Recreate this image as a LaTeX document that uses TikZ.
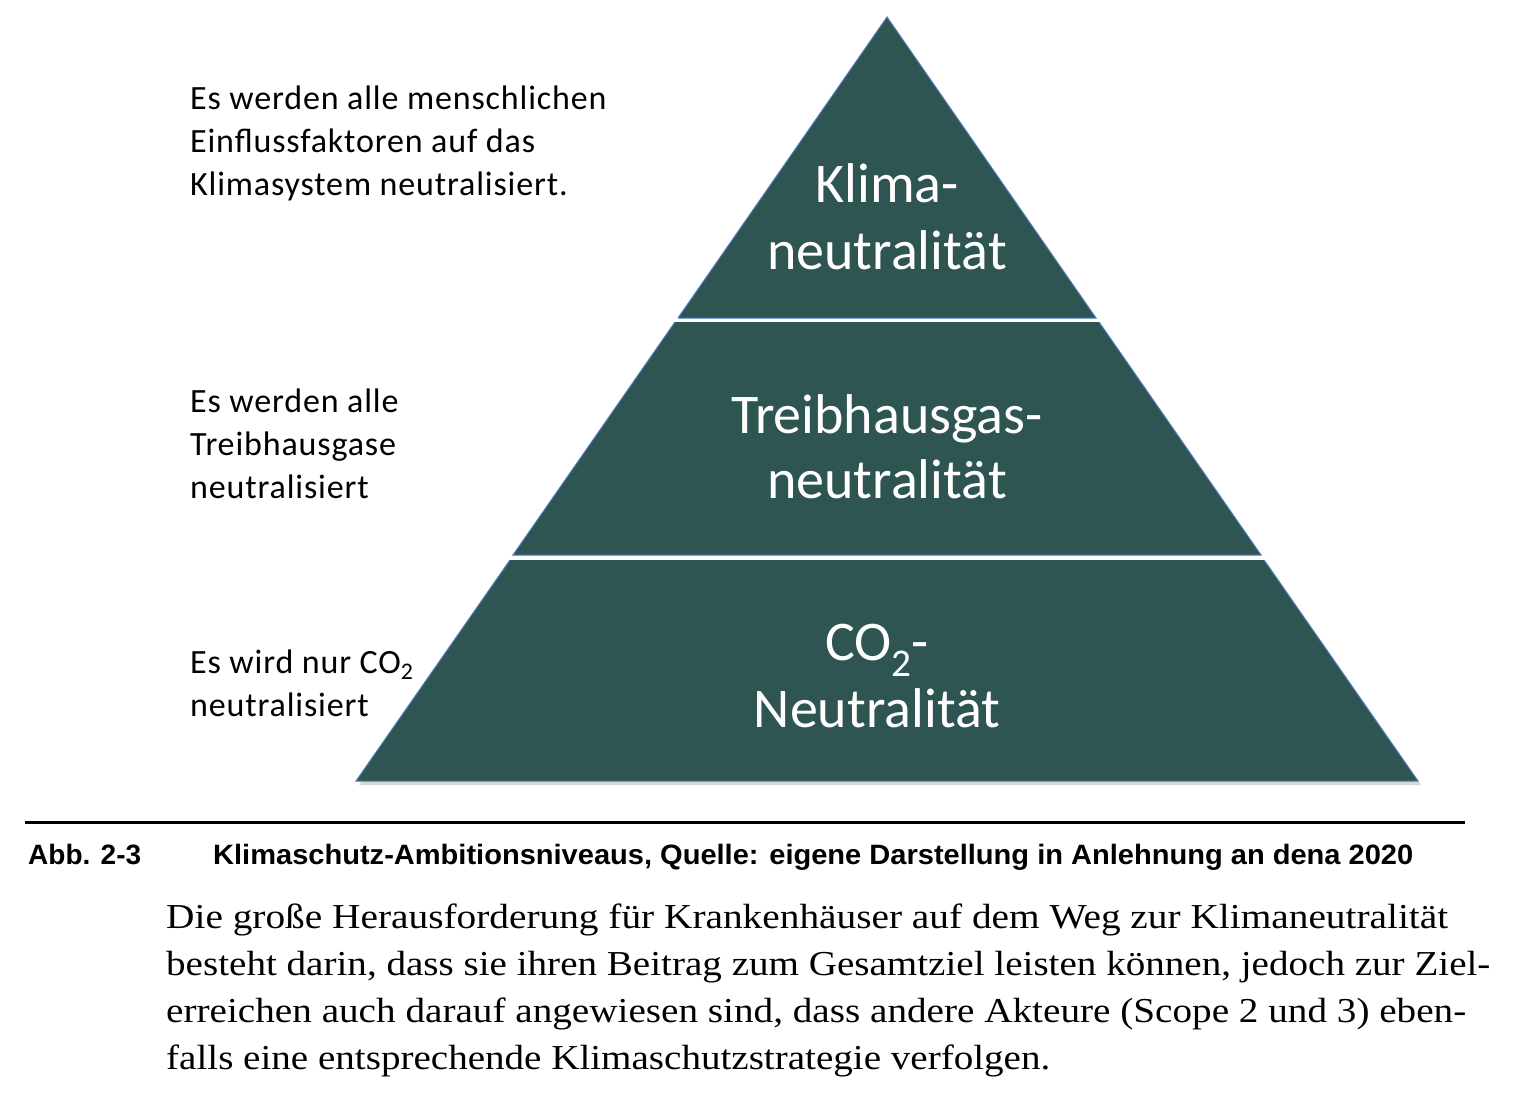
\documentclass[tikz,border=0pt]{standalone}
\usepackage{fontspec}
\usepackage{graphicx}
\setmainfont{Liberation Serif}
\newfontfamily\calfont{Carlito}
\newfontfamily\sidefont[LetterSpace=2.5]{Carlito}
\newfontfamily\capfont{Liberation Sans}
\newfontfamily\bodyfont{Liberation Serif}
\definecolor{tier}{RGB}{46,85,81}
\definecolor{edge}{RGB}{80,122,190}
\newcommand{\hfit}[2]{\resizebox{#1}{\height}{#2}}
\begin{document}
\begin{tikzpicture}[x=1pt,y=-1pt,
  tierfill/.style={fill=tier},
  tieredge/.style={draw=edge,line width=1pt,line join=miter},
  shade/.style={fill=black!15},
  lab/.style={text=white,font=\calfont\fontsize{56}{67}\selectfont,anchor=base,inner sep=0pt},
  side/.style={font=\sidefont\fontsize{34}{43}\selectfont,anchor=base west,inner sep=0pt},
  captxt/.style={font=\capfont\bfseries\fontsize{28}{32}\selectfont,anchor=base west,inner sep=0pt},
  body/.style={font=\bodyfont\fontsize{35}{47}\selectfont,anchor=base west,inner sep=0pt}]
\useasboundingbox (0,0) rectangle (1531,1099);
% shadow
\fill[shade] (513,563) -- (1267,563) -- (1421,785) -- (359,785) -- cycle;
% tiers
\fill[tierfill] (887,17) -- (1096,318) -- (678,318) -- cycle;
\draw[tieredge] (678,318) -- (887,17) -- (1096,318) -- (678,318);
\fill[tierfill] (675,322) -- (1099,322) -- (1261,555) -- (513,555) -- cycle;
\draw[tieredge] (675,322) -- (513,555) -- (1261,555) -- (1099,322);
\fill[tierfill] (510,560) -- (1264,560) -- (1418,781) -- (356,781) -- cycle;
\draw[tieredge] (510,560) -- (356,781) -- (1418,781) -- (1264,560);
% labels
\node[lab] (k1) at (887,203) {Klima-};
\node[lab] (k2) at (887,270) {neutralität};
\node[lab] (t1) at (887,433) {Treibhausgas-};
\node[lab] (t2) at (887,498) {neutralität};
\node[lab] (c1) at (877,660) {CO\textsubscript{2}-};
\node[lab] (c2) at (877,727) {Neutralität};
% side texts
\node[side] (s1) at (190,110) {Es werden alle menschlichen};
\node[side] (s2) at (190,153) {Einflussfaktoren auf das};
\node[side] (s3) at (190,196) {Klimasystem neutralisiert.};
\node[side] (s4) at (190,412) {Es werden alle};
\node[side] (s5) at (190,455) {Treibhausgase};
\node[side] (s6) at (190,498) {neutralisiert};
\node[side] (s7) at (190,673) {Es wird nur CO\textsubscript{2}};
\node[side] (s8) at (190,716) {neutralisiert};
% caption
\coordinate (rl) at (25,822);
\coordinate (rr) at (1465,822);
\draw[line width=3pt] (rl) -- (rr);
\node[captxt] (abb) at (28,864) {\hfit{113pt}{Abb. 2-3}};
\node[captxt] (capt) at (213,864) {\hfit{1200pt}{Klimaschutz-Ambitionsniveaus, Quelle: eigene Darstellung in Anlehnung an dena 2020}};
% body
\node[body] (b1) at (166,928) {\hfit{1282pt}{Die große Herausforderung für Krankenhäuser auf dem Weg zur Klimaneutralität}};
\node[body] (b2) at (166,975) {\hfit{1324pt}{besteht darin, dass sie ihren Beitrag zum Gesamtziel leisten können, jedoch zur Ziel-}};
\node[body] (b3) at (166,1022) {\hfit{1300pt}{erreichen auch darauf angewiesen sind, dass andere Akteure (Scope 2 und 3) eben-}};
\node[body] (b4) at (166,1069) {\hfit{884pt}{falls eine entsprechende Klimaschutzstrategie verfolgen.}};
\end{tikzpicture}
\end{document}
